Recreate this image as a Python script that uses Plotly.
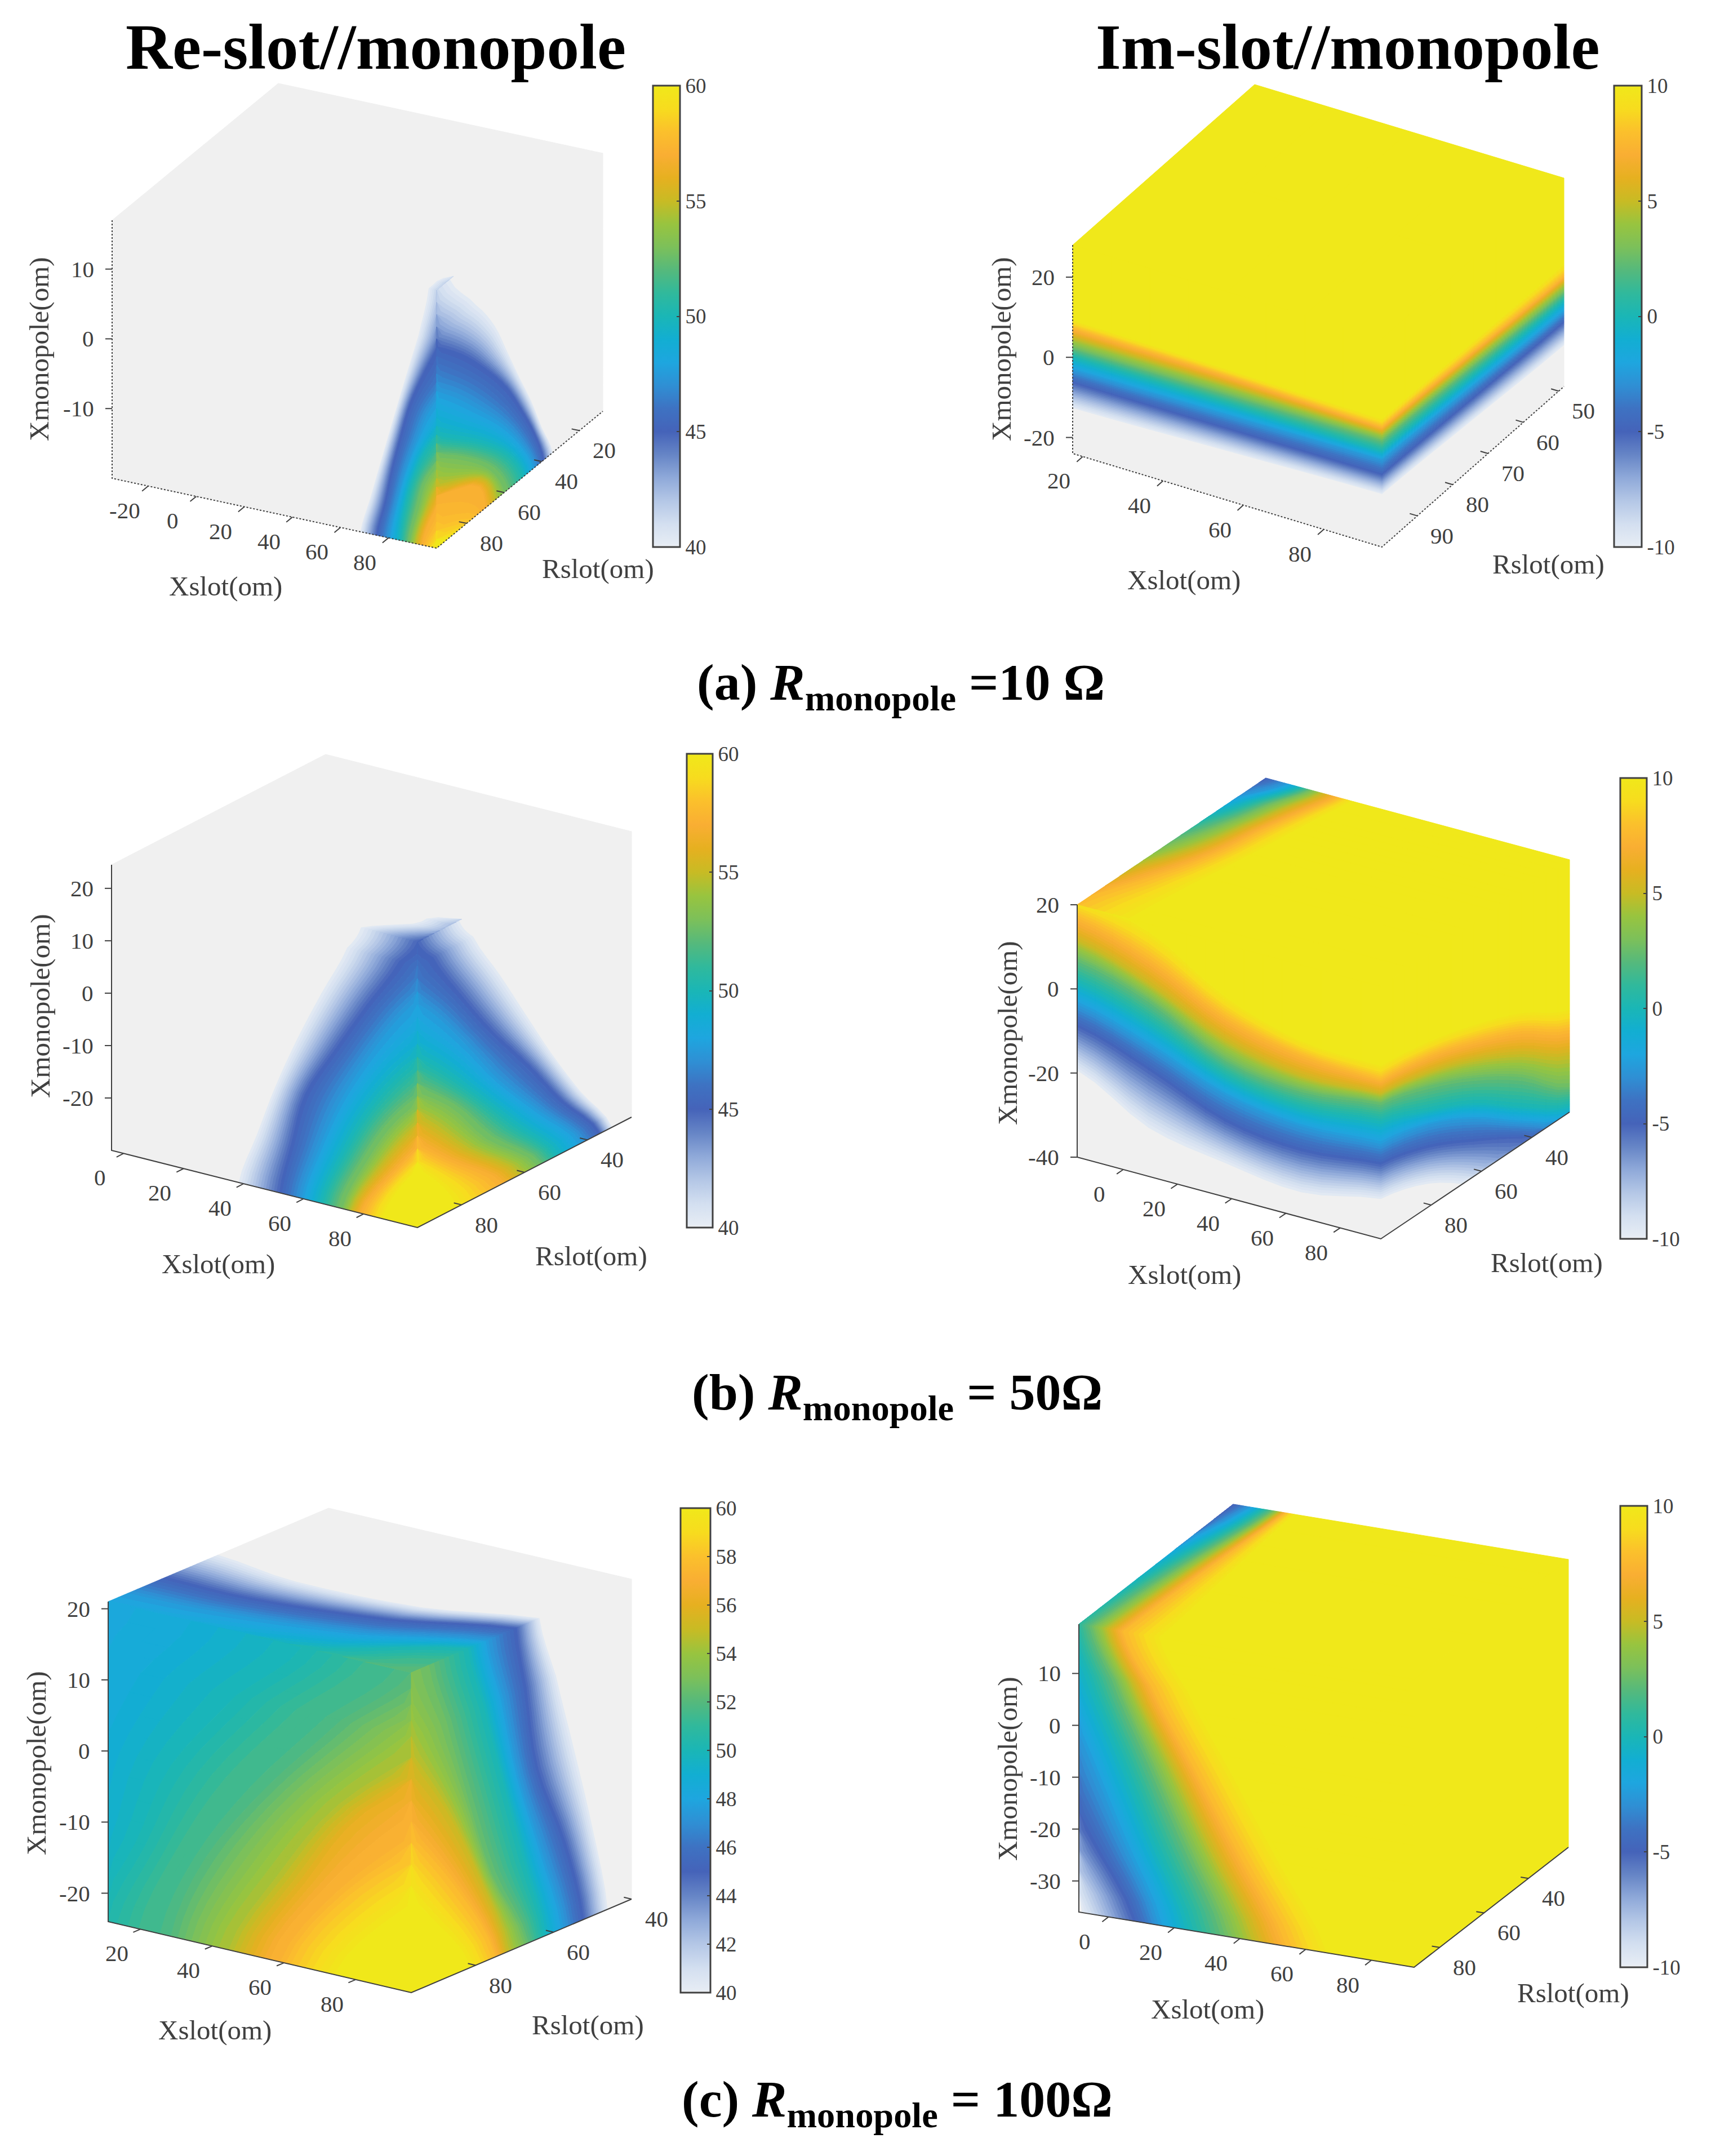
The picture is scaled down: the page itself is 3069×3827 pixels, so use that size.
import math
import numpy as np
import plotly.graph_objects as go

W, H = 3069, 3827
TICK = "#404040"
SERIF = "Liberation Serif"

RE_TICKS_5 = [40, 45, 50, 55, 60]
RE_TICKS_2 = [40, 42, 44, 46, 48, 50, 52, 54, 56, 58, 60]
IM_TICKS = [-10, -5, 0, 5, 10]
RE_LEVELS = [40, 45, 47.5, 50, 53, 57, 60]
RE_LEVELS_C = [40, 45, 47.5, 50, 52.5, 55, 57.5, 60]
RE_LEVELS_C_LEFT = [48, 50, 52, 54, 56, 58, 60]
IM_LEVELS = [-10, -5, -2.5, 0, 2.5, 5, 7.5, 10]

# ---- (a) Rmonopole = 10, Re: contour positions (ohm) of each colour level
A_RE_Z = [-20, -15, -10, -5, 0, 5, 10, 17]
A_RE_LEFT = [
    [68, 75, 80.4, 85, 89, 94, 100], [72, 78.5, 83.3, 87, 92.5, 99, 120],
    [76, 81.4, 87, 91, 97, 109, 140], [80, 85, 92, 98, 110, 135, 160],
    [84, 89, 98, 112, 130, 155, 180], [88, 95, 110, 130, 150, 175, 200],
    [92, 102, 125, 150, 170, 195, 220], [96, 109, 140, 170, 190, 215, 240]]
A_RE_RIGHT = [
    [34, 39, 44, 50, 60, 70, 93], [40, 44, 51, 58, 68, 78, 190],
    [45.5, 51, 61, 73, 84, 120, 200], [52, 59, 74, 92, 105, 125, 210],
    [58, 70, 88, 110, 125, 145, 220], [64, 83, 105, 125, 145, 165, 230],
    [73, 100, 120, 140, 160, 180, 240], [87, 120, 140, 160, 180, 200, 250]]
A_RE_TOP_R = [7.5, 87, 96]
A_RE_TOP_LEVELS = [40, 41.5]
A_RE_TOP = [[135, 139], [100, 104], [96, 100]]

# ---- (a) Im
A_IM_X = [17.5, 56, 94.5]
A_IM_LEFT = [
    [-13, -6.4, -3.1, 0, 2.4, 5, 7.3, 9.5],
    [-12, -6.2, -2.7, 0, 2.5, 5, 7, 8.9],
    [-11, -6, -2.2, 0, 2.7, 4.5, 6, 8.2]]
A_IM_R = [48.5, 74, 100]
A_IM_RIGHT = [
    [-14, -8, -5.3, -2.6, -0.4, 1.8, 3.5, 6.8],
    [-12.5, -7, -3.8, -1.3, 1.2, 3.2, 4.8, 7.5],
    [-11, -6, -2.2, 0, 2.7, 4.5, 6, 8.2]]

# ---- (b) Rmonopole = 50, Re
B_RE_Z = [-30, -20, -10, 0, 10, 20, 24.5]
B_RE_LEFT = [
    [37.6, 52, 59.4, 66, 73, 79, 87], [43.8, 56, 65, 73, 81, 90.5, 97],
    [50, 60.5, 72, 82, 92, 105, 115], [57, 70.5, 81.5, 95, 110, 125, 135],
    [65, 81, 93, 115, 130, 145, 155], [73.5, 92, 108, 135, 150, 165, 175],
    [78, 98, 118, 145, 160, 175, 185]]
B_RE_RIGHT = [
    [32, 36, 42, 50, 56, 67, 83], [42, 48, 55, 63, 72, 84, 93],
    [51, 58.5, 68, 76, 84, 100, 112], [59, 70, 78.5, 90, 102, 118, 132],
    [67, 80, 90, 108, 120, 138, 152], [75.5, 89, 105, 125, 140, 158, 172],
    [80, 94, 115, 135, 150, 168, 182]]
B_RE_TOP_R = [26, 80, 87, 94]
B_RE_TOP_LEVELS = [40, 45]
B_RE_TOP = [[175, 195], [98, 118], [88, 108], [78, 98]]

# ---- (b) Im
B_IM_X = [-17, 9.3, 37.5, 65.7, 95]
B_IM_LEFT = [
    [-20, -9, -3.6, 1.8, 7.3, 11.6, 17, 22],
    [-29.3, -14.7, -8.7, -3.3, 2.2, 6, 12, 19],
    [-32.5, -22, -15.6, -11.3, -7, -2.6, 2.8, 8.3],
    [-34.6, -24.2, -18.3, -13.9, -9.6, -6.3, -1.4, 2.4],
    [-31, -22.3, -17.4, -12, -7.6, -5.4, -2.2, 1.6]]
B_IM_R = [25, 44, 63, 81, 100]
B_IM_RIGHT = [
    [-60, -47, -42, -38.4, -34, -26.4, -20.4, -15],
    [-55, -38.6, -34.8, -31, -24, -18.5, -13, -8.2],
    [-43, -31.7, -26.3, -22.5, -16.5, -12.2, -7.8, -3.5],
    [-35, -25.9, -20.4, -17, -11.2, -8, -4.1, -0.3],
    [-31, -22.3, -17.4, -12, -7.6, -5.4, -2.2, 1.6]]
B_IM_TOP_R = [25, 36, 47.5, 62.5, 77.5, 100]
B_IM_TOP_LEVELS = [-5, -2.5, 0, 2.5, 5, 7.5, 10]
B_IM_TOP = [
    [-17, -9, -4.4, -0.6, 4, 9.6, 15.3],
    [-30, -17, -11, -6, 0, 6, 13.4],
    [-40, -28, -17, -10, -3.5, 2.5, 11.8],
    [-55, -40, -28, -17, -8, -0.5, 9.6],
    [-70, -50, -38, -27, -17, -7, 7],
    [-90, -70, -55, -40, -30, -19, 5]]

# ---- (c) Rmonopole = 100, Re
C_RE_Z = [-24, -12, 0, 12, 21]
C_RE_LEFT = [
    [-15, 7.5, 28.5, 41.8, 51.6, 62, 76],
    [-5, 18.7, 38, 55, 66, 79, 97],
    [-5, 28.5, 55, 72, 83, 107, 130],
    [0, 46.7, 76, 97, 115, 135, 155],
    [11, 65, 95.4, 120, 140, 160, 180]]
C_RE_RIGHT = [
    [45.8, 52.3, 57.5, 62.6, 67, 72, 75, 82],
    [49.5, 57, 63, 67.8, 76, 79, 85, 96],
    [54, 64, 69, 73, 82, 88, 99, 110],
    [59, 67, 73, 78, 87.5, 100, 115, 125],
    [63.3, 69.5, 76.8, 82, 92, 110, 125, 135]]
C_RE_TOP_X = [11, 36, 70, 95.5]
C_RE_TOP_LEVELS = [40, 45, 47.5, 50, 52]
C_RE_TOP = [
    [67.5, 81.7, 91.5, 110, 125],
    [71, 82, 90.5, 105, 120],
    [69.8, 77.5, 85.5, 95, 110],
    [63.3, 69.6, 77, 82, 93]]

# ---- (c) Im
C_IM_Z = [-36, -20, -5, 10, 19.5]
C_IM_LEFT = [
    [-9, 7.6, 15.4, 24.7, 35.6, 45, 54.2, 68.2],
    [-25, -7, 4, 14, 24, 32, 40, 53.4],
    [-40, -20, -6.5, 4, 13, 20, 26.5, 39.5],
    [-55, -30, -17, -6, 2, 7.5, 13, 25.7],
    [-65, -38, -24, -11, -5, 0, 4.5, 17]]
C_IM_TOP_R = [22, 57, 91.5]
C_IM_TOP = [
    [-20, -9, -3.9, -0.1, 3.2, 5.3, 7, 10],
    [-40, -20, -14, -7, -2, 2, 5.5, 13.5],
    [-65, -38, -24, -11, -5, 0, 4.5, 17]]

COLORSCALE = [
    [0, "#f0f0f0"], [0.005, "#e6ecf4"], [0.05, "#d3dff0"], [0.1, "#b4c7e6"], [0.15, "#8fa9d9"],
    [0.2, "#6685c6"], [0.25, "#4563b9"], [0.3, "#3e72c2"], [0.35, "#2f8fd4"], [0.4, "#1ea6df"],
    [0.45, "#12aed2"], [0.5, "#1ab6b6"], [0.55, "#30b99c"], [0.6, "#55b97c"], [0.65, "#7cc05a"],
    [0.7, "#98c43f"], [0.75, "#c8bb24"], [0.8, "#e6b020"], [0.85, "#f9ae33"], [0.9, "#fbc02c"],
    [0.95, "#f7dc1e"], [1, "#f0e81a"]]

PANELS = [
 dict(LB=(199,849),X=(576,-124),Y=(295,243),Z=458,xr=(-35,100),rr=(7.5,96),zr=(-20,17),
      xt=[-20,0,20,40,60,80],rt=[20,40,60,80],zt=[-10,0,10],c=(40,60),cb=(1159,1207,152,971),ct=RE_TICKS_5,
      xtitle=(400,1041),rtitle=(1061,1009),ztitle=(70,620),dash="dot",
      left=(A_RE_Z,RE_LEVELS,A_RE_LEFT,"z","x"),right=(A_RE_Z,RE_LEVELS,A_RE_RIGHT,"z","r"),top=(A_RE_TOP_R,A_RE_TOP_LEVELS,A_RE_TOP,"r","x")),
 dict(LB=(1904,805),X=(549,-166),Y=(323,285),Z=370,xr=(17.5,94.5),rr=(48.5,100),zr=(-24,28),
      xt=[20,40,60,80],rt=[50,60,70,80,90],zt=[-20,0,20],c=(-10,10),cb=(2865,2914,152,971),ct=IM_TICKS,
      xtitle=(2101,1029),rtitle=(2748,1001),ztitle=(1778,620),dash="dot",
      left=(A_IM_X,IM_LEVELS,A_IM_LEFT,"x","z"),right=(A_IM_R,IM_LEVELS,A_IM_RIGHT,"r","z"),top=None),
 dict(LB=(198,2042),X=(543,-137),Y=(380,196),Z=507,xr=(-4,98),rr=(26,94),zr=(-30,24.5),
      xt=[0,20,40,60,80],rt=[40,60,80],zt=[-20,-10,0,10,20],c=(40,60),cb=(1219,1265,1338,2179),ct=RE_TICKS_5,
      xtitle=(388,2243),rtitle=(1049,2229),ztitle=(71,1786),dash="solid",
      left=(B_RE_Z,RE_LEVELS,B_RE_LEFT,"z","x"),right=(B_RE_Z,RE_LEVELS,B_RE_RIGHT,"z","r"),top=(B_RE_TOP_R,B_RE_TOP_LEVELS,B_RE_TOP,"r","x")),
 dict(LB=(1912,2054),X=(539,-145),Y=(335,225),Z=448,xr=(-17,95),rr=(25,100),zr=(-40,20),
      xt=[0,20,40,60,80],rt=[40,60,80],zt=[-40,-20,0,20],c=(-10,10),cb=(2876,2923,1381,2199),ct=IM_TICKS,
      xtitle=(2102,2262),rtitle=(2745,2241),ztitle=(1788,1834),dash="solid",
      left=(B_IM_X,IM_LEVELS,B_IM_LEFT,"x","z"),right=(B_IM_R,IM_LEVELS,B_IM_RIGHT,"r","z"),top=(B_IM_TOP_R,B_IM_TOP_LEVELS,B_IM_TOP,"r","x")),
 dict(LB=(192,3411),X=(538,-126),Y=(391,166),Z=568,xr=(11,95.5),rr=(40,96.5),zr=(-24,21),
      xt=[20,40,60,80],rt=[40,60,80],zt=[-20,-10,0,10,20],c=(40,60),cb=(1208,1261,2677,3537),ct=RE_TICKS_2,
      xtitle=(381,3603),rtitle=(1043,3594),ztitle=(64,3130),dash="solid",
      left=(C_RE_Z,RE_LEVELS_C_LEFT,C_RE_LEFT,"z","x"),right=(C_RE_Z,RE_LEVELS_C,C_RE_RIGHT,"z","r"),top=(C_RE_TOP_X,C_RE_TOP_LEVELS,C_RE_TOP,"x","r")),
 dict(LB=(1915,3394),X=(595,-98),Y=(274,213),Z=511,xr=(-9,93),rr=(22,91.5),zr=(-36,19.5),
      xt=[0,20,40,60,80],rt=[40,60,80],zt=[-30,-20,-10,0,10],c=(-10,10),cb=(2876,2924,2673,3492),ct=IM_TICKS,
      xtitle=(2143,3566),rtitle=(2792,3537),ztitle=(1788,3140),dash="solid",
      left=(C_IM_Z,IM_LEVELS,C_IM_LEFT,"z","x"),right=None,top=(C_IM_TOP_R,IM_LEVELS,C_IM_TOP,"r","x")),
]
CAPTIONS = [("<b>(a) <i>R</i><sub>monopole</sub> =10 Ω</b>",1599,1217),
            ("<b>(b) <i>R</i><sub>monopole</sub> = 50Ω</b>",1592,2477),
            ("<b>(c) <i>R</i><sub>monopole</sub> = 100Ω</b>",1592,3732)]
HEADERS = [("<b>Re-slot//monopole</b>",667,84),("<b>Im-slot//monopole</b>",2392,84)]

NBINS = 64
STATION_STEPS = 4

def hex2rgb(h):
    return np.array([int(h[i:i+2],16) for i in (1,3,5)],float)
CS_T = np.array([c[0] for c in COLORSCALE]); CS_RGB = np.array([hex2rgb(c[1]) for c in COLORSCALE])
def bin_color(b):
    t = b/(NBINS-1)
    return "rgb(%d,%d,%d)" % tuple(round(float(np.interp(t,CS_T,CS_RGB[:,k]))) for k in range(3))

def project(p, x, r, z):
    """Map (Xslot, Rslot, Xmonopole) on to the page through the cube's axis directions."""
    a = (x-p["xr"][0])/(p["xr"][1]-p["xr"][0])
    b = (p["rr"][1]-r)/(p["rr"][1]-p["rr"][0])
    c = (z-p["zr"][0])/(p["zr"][1]-p["zr"][0])
    return (p["LB"][0]+a*p["X"][0]+b*p["Y"][0], p["LB"][1]-(a*p["X"][1]+b*p["Y"][1]+c*p["Z"]))

bins_x = [[] for _ in range(NBINS)]
bins_y = [[] for _ in range(NBINS)]

def curve(pos, i, f):
    """Rounded contour line between two read rows (Catmull-Rom through the rows)."""
    n=len(pos)
    P0=pos[max(i-1,0)];P1=pos[i];P2=pos[i+1];P3=pos[min(i+2,n-1)]
    return 0.5*(2*P1+(P2-P0)*f+(2*P0-5*P1+4*P2-P3)*f*f+(3*P1-P0-3*P2+P3)*f*f*f)

def add_face(p, fixed, spec, fill):
    rng = dict(x=p["xr"], r=p["rr"], z=p["zr"])
    if spec is None:
        st_axis, pos_axis = [a for a in "xrz" if a != fixed[0]]
        stations = list(rng[st_axis]); levels = [fill]
        table = [[float(np.mean(rng[pos_axis]))]]*2
    else:
        stations, levels, table, st_axis, pos_axis = spec
    tab = np.array(table,float)
    plo, phi = rng[pos_axis]; slo, shi = min(rng[st_axis]), max(rng[st_axis])
    lo = min(plo, tab.min())-1; hi = max(phi, tab.max())+1
    pos = np.hstack([np.full((len(tab),1),lo), tab, np.full((len(tab),1),hi)])
    lev = [levels[0]]+list(levels)+[levels[-1]]
    cmin, cmax = p["c"]
    span = (cmax-cmin)/NBINS
    def pt(s,q):
        c = {st_axis:min(max(s,slo),shi), pos_axis:min(max(q,plo),phi), fixed[0]:fixed[1]}
        return project(p,c["x"],c["r"],c["z"])
    for i in range(len(stations)-1):
        for t in range(STATION_STEPS):
            f0=t/STATION_STEPS; f1=(t+1)/STATION_STEPS
            s0=stations[i]+(stations[i+1]-stations[i])*f0; s1=stations[i]+(stations[i+1]-stations[i])*f1
            p0=curve(pos,i,f0); p1=curve(pos,i,f1)
            for j in range(pos.shape[1]-1):
                dl=lev[j+1]-lev[j]
                n=max(1,math.ceil(abs(dl)/span))
                for u in range(n):
                    g0=u/n; g1=(u+1)/n
                    q00=p0[j]+(p0[j+1]-p0[j])*g0; q01=p0[j]+(p0[j+1]-p0[j])*g1
                    q10=p1[j]+(p1[j+1]-p1[j])*g0; q11=p1[j]+(p1[j+1]-p1[j])*g1
                    if max(q00,q01,q10,q11)<plo or min(q00,q01,q10,q11)>phi: continue
                    v=lev[j]+dl*(g0+g1)/2
                    b=int(min(NBINS-1,max(0,round((v-cmin)/(cmax-cmin)*(NBINS-1)))))
                    quad=[pt(s0,q00),pt(s0,q01),pt(s1,q11),pt(s1,q10),pt(s0,q00)]
                    bins_x[b].extend([round(q[0],1) for q in quad]+[None])
                    bins_y[b].extend([round(q[1],1) for q in quad]+[None])

annos=[]
line_traces=[]
cb_traces=[]
TF=dict(family=SERIF,size=41,color=TICK)
TT=dict(family=SERIF,size=49,color=TICK)
for p in PANELS:
    xx=p["xr"];rr=p["rr"];zz=p["zr"];low,high=p["c"]
    add_face(p,("r",rr[1]),p["left"],low)
    add_face(p,("x",xx[1]),p["right"],high)
    add_face(p,("z",zz[1]),p["top"],low if low==40 else high)
    LBp=project(p,xx[0],rr[1],zz[0]);Fp=project(p,xx[1],rr[1],zz[0]);RBp=project(p,xx[1],rr[0],zz[0]);LTp=project(p,xx[0],rr[1],zz[1])
    line_traces.append(go.Scatter(x=[LTp[0],LBp[0],Fp[0],RBp[0]],y=[LTp[1],LBp[1],Fp[1],RBp[1]],mode="lines",
        line=dict(color=TICK,width=2,dash=p["dash"]),hoverinfo="skip"))
    ux=np.array(p["X"],float)/np.hypot(*p["X"]); uy=np.array(p["Y"],float)/np.hypot(*p["Y"])
    tx,ty=[],[]
    for t in p["xt"]:
        s=project(p,t,rr[1],zz[0])
        tx+=[s[0],s[0]-14*uy[0],None];ty+=[s[1],s[1]+14*uy[1],None]
        annos.append(dict(x=s[0],y=s[1],xref="x",yref="y",text=str(t),showarrow=False,xshift=-42,yshift=-43,font=TF))
    for t in p["rt"]:
        s=project(p,xx[1],t,zz[0])
        tx+=[s[0],s[0]-14*ux[0],None];ty+=[s[1],s[1]+14*ux[1],None]
        annos.append(dict(x=s[0],y=s[1],xref="x",yref="y",text=str(t),showarrow=False,xshift=44,yshift=-35,font=TF))
    for t in p["zt"]:
        s=project(p,xx[0],rr[1],t)
        tx+=[s[0],s[0]-12,None];ty+=[s[1],s[1],None]
        annos.append(dict(x=s[0],y=s[1],xref="x",yref="y",text=str(t),showarrow=False,xanchor="right",xshift=-30,font=TF))
    line_traces.append(go.Scatter(x=tx,y=ty,mode="lines",line=dict(color=TICK,width=2),hoverinfo="skip"))
    cb=p["cb"]
    colorbar=dict(x=cb[0]/W,xanchor="left",y=1-(cb[2]+cb[3])/2/H,yanchor="middle",len=(cb[3]-cb[2])/H,
        lenmode="fraction",thickness=cb[1]-cb[0],thicknessmode="pixels",ypad=0,xpad=0,
        outlinewidth=3,outlinecolor=TICK,tickmode="array",tickvals=p["ct"],ticktext=[str(t) for t in p["ct"]],
        ticks="inside",ticklen=7,tickcolor=TICK,tickwidth=2,tickfont=dict(family=SERIF,size=37,color=TICK))
    cb_traces.append(go.Scatter(x=[-500],y=[-500],mode="markers",hoverinfo="skip",
        marker=dict(color=[low],cmin=low,cmax=high,colorscale=COLORSCALE,showscale=True,colorbar=colorbar)))
    for txt,(tx0,ty0),ang in (("Xslot(om)",p["xtitle"],0),("Rslot(om)",p["rtitle"],0),("Xmonopole(om)",p["ztitle"],-90)):
        annos.append(dict(text=txt,x=tx0/W,y=1-ty0/H,xref="paper",yref="paper",showarrow=False,font=TT,textangle=ang,xanchor="center",yanchor="middle"))

for txt,tx,ty in CAPTIONS:
    annos.append(dict(text=txt,x=tx/W,y=1-ty/H,xref="paper",yref="paper",showarrow=False,xanchor="center",yanchor="middle",font=dict(family=SERIF,size=92,color="black")))
for txt,tx,ty in HEADERS:
    annos.append(dict(text=txt,x=tx/W,y=1-ty/H,xref="paper",yref="paper",showarrow=False,xanchor="center",yanchor="middle",font=dict(family=SERIF,size=115,color="black")))

fig=go.Figure()
for b in range(NBINS):
    if bins_x[b]:
        col=bin_color(b)
        fig.add_trace(go.Scatter(x=bins_x[b],y=bins_y[b],mode="lines",fill="toself",fillcolor=col,
            line=dict(color=col,width=1,simplify=False),hoverinfo="skip",connectgaps=False))
for t in line_traces+cb_traces:
    fig.add_trace(t)
fig.update_layout(width=W,height=H,autosize=False,margin=dict(l=0,r=0,t=0,b=0,autoexpand=False),annotations=annos,
    showlegend=False,paper_bgcolor="white",plot_bgcolor="white",font=dict(family=SERIF),hovermode=False,
    xaxis=dict(range=[0,W],visible=False,fixedrange=True),
    yaxis=dict(range=[H,0],visible=False,fixedrange=True))
fig.write_html("out.html",config={"displayModeBar":False},
    post_script="document.body.style.margin='0';document.querySelectorAll('text').forEach(function(t){if(!t.textContent.trim()){t.remove();}});")
